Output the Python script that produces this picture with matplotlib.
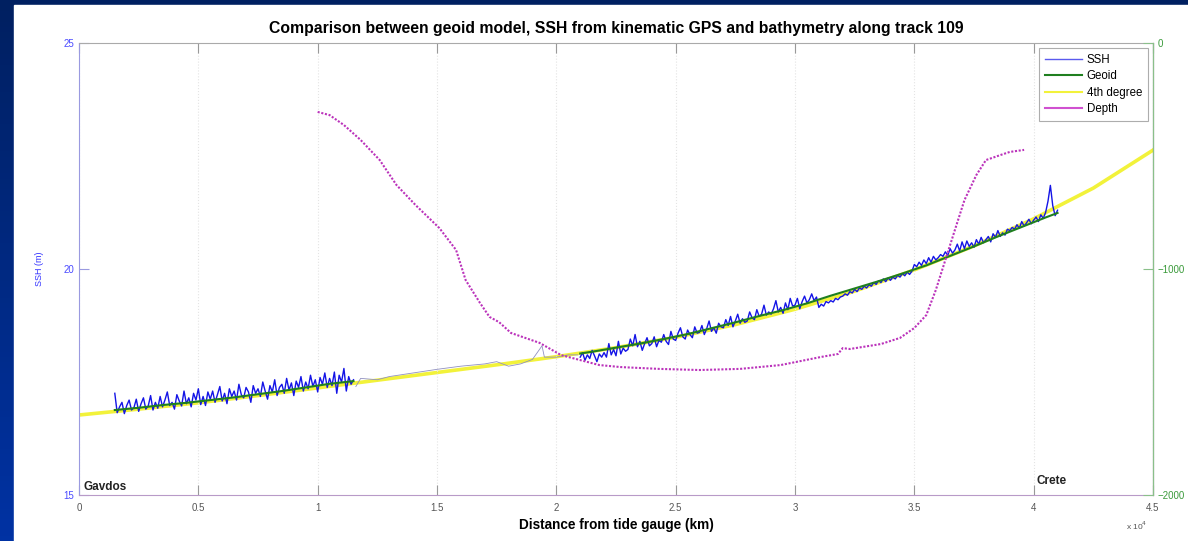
import numpy as np
import matplotlib.pyplot as plt
from matplotlib.colors import LinearSegmentedColormap

plt.rcParams['font.family'] = ['Liberation Sans', 'DejaVu Sans']

# SSH from kinematic GPS (m), 100 m sampling
ssh_x1 = np.arange(1500, 11600, 100)
ssh_y1 = [17.25, 16.82, 16.95, 17.05, 16.80, 16.98, 17.10, 16.88, 16.93, 17.12,
          16.85, 17.02, 17.15, 16.90, 16.97, 17.20, 16.88, 17.05, 16.92, 17.18,
          16.95, 17.10, 17.28, 16.98, 17.05, 16.90, 17.22, 17.08, 16.97, 17.30,
          17.02, 17.15, 16.95, 17.25, 17.10, 17.35, 17.00, 17.18, 16.98, 17.28,
          17.12, 17.30, 17.05, 17.22, 17.40, 17.08, 17.25, 17.02, 17.35, 17.18,
          17.30, 17.10, 17.45, 17.22, 17.15, 17.38, 17.28, 17.05, 17.42, 17.25,
          17.35, 17.18, 17.50, 17.30, 17.12, 17.42, 17.28, 17.55, 17.20, 17.38,
          17.45, 17.25, 17.58, 17.32, 17.48, 17.20, 17.52, 17.38, 17.62, 17.30,
          17.50, 17.35, 17.65, 17.40, 17.55, 17.28, 17.60, 17.45, 17.70, 17.38,
          17.58, 17.42, 17.72, 17.25, 17.65, 17.50, 17.80, 17.30, 17.62, 17.45,
          17.55]
ssh_xg = [11600, 11800, 12500, 13000, 14000, 15000, 16000, 17000, 17500, 18000,
          18500, 19000, 19400, 19500, 20000, 20500, 20900]
ssh_yg = [17.40, 17.58, 17.55, 17.62, 17.70, 17.78, 17.85, 17.90, 17.95, 17.85,
          17.90, 18.00, 18.30, 18.05, 18.05, 18.10, 18.10]
ssh_x2 = np.arange(21000, 41100, 100)
ssh_y2 = [18.05, 18.15, 17.98, 18.10, 18.02, 18.20, 18.08, 17.95, 18.12, 18.05,
          18.15, 18.05, 18.35, 18.10, 18.22, 18.08, 18.40, 18.12, 18.25, 18.18,
          18.22, 18.45, 18.30, 18.55, 18.28, 18.40, 18.20, 18.35, 18.48, 18.30,
          18.35, 18.50, 18.28, 18.42, 18.38, 18.55, 18.40, 18.33, 18.62, 18.45,
          18.42, 18.58, 18.70, 18.50, 18.45, 18.65, 18.55, 18.48, 18.72, 18.58,
          18.60, 18.75, 18.55, 18.68, 18.85, 18.62, 18.70, 18.58, 18.80, 18.72,
          18.70, 18.88, 18.75, 18.95, 18.72, 18.85, 19.00, 18.80, 18.90, 18.82,
          18.85, 19.05, 18.92, 18.88, 19.10, 18.95, 19.00, 19.20, 18.98, 19.05,
          19.00, 19.12, 19.30, 19.05, 19.15, 19.02, 19.25, 19.10, 19.35, 19.18,
          19.20, 19.35, 19.12, 19.28, 19.40, 19.25, 19.32, 19.45, 19.30, 19.38,
          19.15, 19.22, 19.18, 19.28, 19.25, 19.30, 19.27, 19.35, 19.32, 19.38,
          19.40, 19.45, 19.42, 19.50, 19.47, 19.55, 19.50, 19.58, 19.55, 19.62,
          19.58, 19.65, 19.62, 19.70, 19.66, 19.74, 19.70, 19.78, 19.72, 19.80,
          19.75, 19.82, 19.78, 19.86, 19.82, 19.90, 19.85, 19.93, 19.88, 19.95,
          20.10, 20.05, 20.15, 20.08, 20.20, 20.12, 20.25, 20.15, 20.28, 20.20,
          20.25, 20.32, 20.28, 20.38, 20.30, 20.45, 20.35, 20.42, 20.55, 20.40,
          20.60, 20.45, 20.62, 20.50, 20.58, 20.48, 20.65, 20.55, 20.70, 20.58,
          20.65, 20.72, 20.60, 20.78, 20.70, 20.85, 20.72, 20.80, 20.75, 20.88,
          20.85, 20.92, 20.88, 20.98, 20.90, 21.05, 20.95, 21.02, 21.10, 21.00,
          21.08, 21.15, 21.05, 21.20, 21.12, 21.25, 21.50, 21.85, 21.40, 21.18,
          21.30]

# Geoid model (m), only along the GPS segments
geoid_x1 = [1500, 2500, 3500, 4500, 5500, 6500, 7500, 8500, 9500, 10500, 11500]
geoid_y1 = [16.88, 16.93, 16.99, 17.04, 17.10, 17.16, 17.23, 17.30, 17.38, 17.46,
            17.52]
geoid_x2 = [21000, 21500, 22500, 23500, 24500, 25500, 26500, 27500, 28500, 29500,
            30500, 31500, 32500, 33500, 34500, 35500, 36500, 37500, 38500, 39500,
            40500, 41000]
geoid_y2 = [18.13, 18.17, 18.26, 18.35, 18.45, 18.56, 18.69, 18.82, 18.96, 19.09,
            19.24, 19.41, 19.57, 19.73, 19.90, 20.08, 20.29, 20.50, 20.72, 20.93,
            21.14, 21.24]

# 4th degree fit (m)
fit_x = [0, 2500, 5000, 7500, 10000, 12500, 15000, 17500, 20000, 22500,
         25000, 27500, 30000, 32500, 35000, 37500, 40000, 42500, 45000]
fit_y = [16.77, 16.90, 17.04, 17.20, 17.37, 17.54, 17.71, 17.88, 18.06, 18.26,
         18.49, 18.77, 19.11, 19.51, 19.98, 20.51, 21.11, 21.79, 22.63]

# Bathymetry (m)
depth_x = [10000, 10500, 11100, 11800, 12600, 13300, 14100, 15100, 15800, 16200,
           16800, 17200, 17600, 18100, 19300, 20200, 21000, 21800, 22700, 24300,
           26000, 27700, 29400, 31100, 31800, 32000, 32300, 33600, 34400, 35000,
           35500, 35900, 36300, 36700, 37100, 37600, 38000, 38600, 39000, 39600]
depth_y = [-305, -319, -363, -429, -518, -628, -717, -819, -916, -1049,
           -1150, -1212, -1235, -1283, -1327, -1381, -1403, -1425, -1434, -1442,
           -1447, -1442, -1425, -1389, -1376, -1350, -1354, -1332, -1305, -1261,
           -1204, -1093, -960, -827, -695, -584, -518, -496, -482, -473]

xticks = [0, 5000, 10000, 15000, 20000, 25000, 30000, 35000, 40000, 45000]
xticklabels = ['0', '0.5', '1', '1.5', '2', '2.5', '3', '3.5', '4', '4.5']

fig = plt.figure(figsize=(11.88, 5.41), dpi=100)

# slide background
bg = fig.add_axes([0, 0, 1, 1], zorder=-10)
cmap = LinearSegmentedColormap.from_list('slide', ['#002061', '#0032a3'])
bg.imshow(np.linspace(0, 1, 100).reshape(-1, 1), aspect='auto', cmap=cmap,
          extent=[0, 1, 0, 1])
bg.add_patch(plt.Rectangle((14 / 1188, 0), 1, 1 - 5 / 541, color='white'))
bg.set_xlim(0, 1)
bg.set_ylim(0, 1)
bg.axis('off')

ax = fig.add_axes([79 / 1188, 1 - 495 / 541, 1074 / 1188, 452 / 541])
ax.plot(fit_x, fit_y, color='#f2f23a', lw=2.6, label='4th degree', zorder=1)
ax.plot(ssh_x1, ssh_y1, color='#1414e6', lw=1.0, label='SSH', zorder=2)
ax.plot(ssh_xg, ssh_yg, color='#9090c0', lw=0.6, zorder=2)
ax.plot(ssh_x2, ssh_y2, color='#1414e6', lw=1.0, zorder=2)
ax.plot(geoid_x1, geoid_y1, color='#1f7f1f', lw=1.5, label='Geoid', zorder=3)
ax.plot(geoid_x2, geoid_y2, color='#1f7f1f', lw=1.5, zorder=3)
ax.set_xlim(0, 45000)
ax.set_ylim(15, 25)
ax.set_xticks(xticks)
ax.set_xticklabels(xticklabels)
ax.set_yticks([15, 20, 25])
ax.tick_params(axis='x', direction='in', length=7, labelsize=7,
               labelcolor='#555555', color='#999999', top=True, pad=6)
ax.tick_params(axis='y', direction='in', length=7, labelsize=7,
               labelcolor='#4a4aff', color='#9a9ae0')
ax.grid(axis='x', ls=':', color='#e4e4e4', lw=0.8)
ax.spines['left'].set_color('#9a9ae0')
ax.spines['bottom'].set_color('#b89ac8')
ax.spines['top'].set_color('#aaaaaa')
ax.set_ylabel('SSH (m)', color='#3030ff', fontsize=6.5, labelpad=14)
ax.set_xlabel('Distance from tide gauge (km)', fontsize=9.8, fontweight='bold',
              labelpad=3)
ax.set_title('Comparison between geoid model, SSH from kinematic GPS and '
             'bathymetry along track 109', fontsize=11.3, fontweight='bold',
             pad=7)
ax.text(200, 15.18, 'Gavdos', fontsize=8.5, fontweight='bold', va='center',
        color='#222222')
ax.text(40100, 15.3, 'Crete', fontsize=8.5, fontweight='bold', va='center',
        color='#222222')
ax.text(0.985, -0.055, 'x 10$^4$', transform=ax.transAxes, fontsize=6,
        color='#555555', ha='center', va='top')

ax2 = ax.twinx()
ax2.plot(depth_x, depth_y, color='#bb33bb', lw=1.5, ls=(0, (1, 0.8)),
         label='Depth')
ax2.set_ylim(-2000, 0)
ax2.set_yticks([-2000, -1000, 0])
ax2.tick_params(axis='y', direction='in', length=7, labelsize=7,
                labelcolor='#3a9a3a', color='#8ac08a')
ax2.spines['right'].set_color('#8ac08a')
ax2.spines['left'].set_visible(False)
ax2.spines['top'].set_visible(False)
ax2.spines['bottom'].set_visible(False)

h1, l1 = ax.get_legend_handles_labels()
h2, l2 = ax2.get_legend_handles_labels()
hd = dict(zip(l1 + l2, h1 + h2))
order = ['SSH', 'Geoid', '4th degree', 'Depth']
leg = ax2.legend([hd[k] for k in order], order, loc='upper right', fontsize=8.3,
                 fancybox=False, edgecolor='#999999', handlelength=3.2,
                 handletextpad=0.4, borderaxespad=0.45, labelspacing=0.38,
                 borderpad=0.5)
leg.get_frame().set_linewidth(0.8)
leg_colors = ['#5a5aee', '#1f7f1f', '#f2f23a', '#d050d0']
for line, c in zip(leg.get_lines(), leg_colors):
    line.set_linestyle('-')
    line.set_linewidth(1.5)
    line.set_color(c)
leg.get_lines()[0].set_linewidth(1.0)

fig.savefig('out.png', dpi=100)
